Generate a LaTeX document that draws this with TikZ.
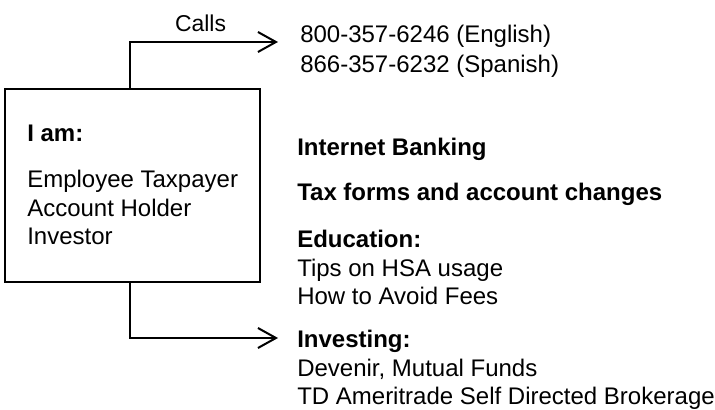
\documentclass[tikz,border=0pt]{standalone}
\usepackage{fontspec}
\setmainfont{Liberation Sans}
\usetikzlibrary{positioning, arrows.meta}

\begin{document}
\begin{tikzpicture}[
            x=0.75pt, y=-0.75pt,
            frame/.style={draw=black, line width=1.5pt, minimum width=191.25pt, minimum height=144.75pt},
            txt/.style={inner sep=0pt, align=left, anchor=north west, font=\fontsize{18}{21.4}\selectfont},
            head/.style={txt, font=\fontsize{18}{21.4}\selectfont\bfseries},
            link/.style={-{Straight Barb[length=13.5pt, width=15pt]}, line width=1.5pt}
        ]
            \useasboundingbox (0,0) rectangle (715,410);

            \node[frame] (box) at (132.5,185.5) {};
            \node[txt] (role) at (27,125) {\textbf{I am:}\\[13pt]Employee Taxpayer\\Account Holder\\Investor};

            \node[txt] (phones) at (300,25) {800-357-6246 (English)\\[1pt]866-357-6232 (Spanish)};

            \node[head] (banking) at (297,138) {Internet Banking};
            \node[head] (taxforms) at (297,183) {Tax forms and account changes};
            \node[txt] (education) at (297,230) {\textbf{Education:}\\Tips on HSA usage\\How to Avoid Fees};
            \node[txt] (investing) at (297,330) {\textbf{Investing:}\\Devenir, Mutual Funds\\TD Ameritrade Self Directed Brokerage};

            \draw[link] ([xshift=-2pt]box.north) |- ([xshift=-16.5pt, yshift=-12.75pt]phones.north west)
                node[pos=0.75, above=7pt, xshift=-2.5pt, inner sep=0pt, font=\fontsize{17.2}{19}\selectfont] (calls) {Calls};
            \draw[link] ([xshift=-2pt]box.south) |- ([xshift=-14.25pt, yshift=-6pt]investing.north west);

        \end{tikzpicture}
\end{document}
